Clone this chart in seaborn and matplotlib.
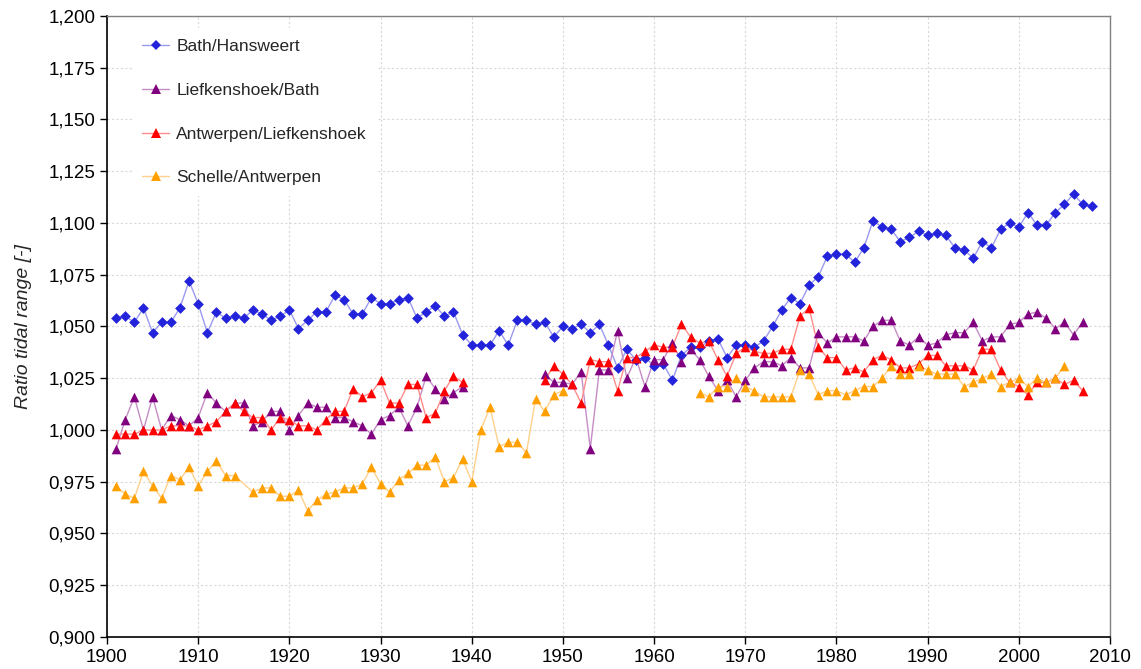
import numpy as np
import pandas as pd
import seaborn as sns
import matplotlib
matplotlib.use("Agg")
import matplotlib.pyplot as plt
from matplotlib.lines import Line2D
from matplotlib.ticker import FuncFormatter, MultipleLocator

nan = np.nan

years = list(range(1901, 2009))

bath_hansweert = [
    1.054, 1.055, 1.052, 1.059, 1.047, 1.052, 1.052, 1.059, 1.072, 1.061,  # 1901-1910
    1.047, 1.057, 1.054, 1.055, 1.054, 1.058, 1.056, 1.053, 1.055, 1.058,  # 1911-1920
    1.049, 1.053, 1.057, 1.057, 1.065, 1.063, 1.056, 1.056, 1.064, 1.061,  # 1921-1930
    1.061, 1.063, 1.064, 1.054, 1.057, 1.060, 1.055, 1.057, 1.046, 1.041,  # 1931-1940
    1.041, 1.041, 1.048, 1.041, 1.053, 1.053, 1.051, 1.052, 1.045, 1.050,  # 1941-1950
    1.049, 1.051, 1.047, 1.051, 1.041, 1.030, 1.039, 1.034, 1.035, 1.031,  # 1951-1960
    1.032, 1.024, 1.036, 1.040, 1.040, 1.043, 1.044, 1.035, 1.041, 1.041,  # 1961-1970
    1.040, 1.043, 1.050, 1.058, 1.064, 1.061, 1.070, 1.074, 1.084, 1.085,  # 1971-1980
    1.085, 1.081, 1.088, 1.101, 1.098, 1.097, 1.091, 1.093, 1.096, 1.094,  # 1981-1990
    1.095, 1.094, 1.088, 1.087, 1.083, 1.091, 1.088, 1.097, 1.100, 1.098,  # 1991-2000
    1.105, 1.099, 1.099, 1.105, 1.109, 1.114, 1.109, 1.108,                # 2001-2008
]

liefkenshoek_bath = [
    0.991, 1.005, 1.016, 1.000, 1.016, 1.000, 1.007, 1.005, 1.002, 1.006,
    1.018, 1.013, 1.009, 1.013, 1.013, 1.002, 1.004, 1.009, 1.009, 1.000,
    1.007, 1.013, 1.011, 1.011, 1.006, 1.006, 1.004, 1.002, 0.998, 1.005,
    1.007, 1.011, 1.002, 1.011, 1.026, 1.020, 1.015, 1.018, 1.021, nan,
    nan, nan, nan, nan, nan, nan, nan, 1.027, 1.023, 1.023,
    1.022, 1.028, 0.991, 1.029, 1.029, 1.048, 1.025, 1.035, 1.021, 1.034,
    1.034, 1.042, 1.033, 1.039, 1.034, 1.026, 1.019, 1.024, 1.016, 1.024,
    1.030, 1.033, 1.033, 1.031, 1.035, 1.030, 1.030, 1.047, 1.042, 1.045,
    1.045, 1.045, 1.043, 1.050, 1.053, 1.053, 1.043, 1.041, 1.045, 1.041,
    1.042, 1.046, 1.047, 1.047, 1.052, 1.043, 1.045, 1.045, 1.051, 1.052,
    1.056, 1.057, 1.054, 1.049, 1.052, 1.046, 1.052, nan,
]

antwerpen_liefkenshoek = [
    0.998, 0.998, 0.998, 1.000, 1.000, 1.000, 1.002, 1.002, 1.002, 1.000,
    1.002, 1.004, 1.009, 1.013, 1.009, 1.006, 1.006, 1.000, 1.006, 1.005,
    1.002, 1.002, 1.000, 1.005, 1.009, 1.009, 1.020, 1.016, 1.018, 1.024,
    1.013, 1.013, 1.022, 1.022, 1.006, 1.008, 1.019, 1.026, 1.023, nan,
    nan, nan, nan, nan, nan, nan, nan, 1.024, 1.031, 1.027,
    1.022, 1.013, 1.034, 1.033, 1.033, 1.019, 1.035, 1.035, 1.038, 1.041,
    1.040, 1.040, 1.051, 1.045, 1.042, 1.043, 1.034, 1.026, 1.037, 1.040,
    1.038, 1.037, 1.037, 1.039, 1.039, 1.055, 1.059, 1.040, 1.035, 1.035,
    1.029, 1.030, 1.028, 1.034, 1.036, 1.034, 1.030, 1.030, 1.032, 1.036,
    1.036, 1.031, 1.031, 1.031, 1.029, 1.039, 1.039, 1.029, 1.023, 1.021,
    1.017, 1.023, 1.023, 1.025, 1.022, 1.024, 1.019, nan,
]

schelle_antwerpen = [
    0.973, 0.969, 0.967, 0.980, 0.973, 0.967, 0.978, 0.976, 0.982, 0.973,
    0.980, 0.985, 0.978, 0.978, nan, 0.970, 0.972, 0.972, 0.968, 0.968,
    0.971, 0.961, 0.966, 0.969, 0.970, 0.972, 0.972, 0.974, 0.982, 0.974,
    0.970, 0.976, 0.979, 0.983, 0.983, 0.987, 0.975, 0.977, 0.986, 0.975,
    1.000, 1.011, 0.992, 0.994, 0.994, 0.989, 1.015, 1.009, 1.017, 1.019,
    nan, nan, nan, nan, nan, nan, nan, nan, nan, nan,
    nan, nan, nan, nan, 1.018, 1.016, 1.021, 1.021, 1.025, 1.021,
    1.019, 1.016, 1.016, 1.016, 1.016, 1.029, 1.027, 1.017, 1.019, 1.019,
    1.017, 1.019, 1.021, 1.021, 1.025, 1.031, 1.027, 1.027, 1.031, 1.029,
    1.027, 1.027, 1.027, 1.021, 1.023, 1.025, 1.027, 1.021, 1.023, 1.025,
    1.021, 1.025, 1.023, 1.025, 1.031, nan, nan, nan,
]

series_names = ["Bath/Hansweert", "Liefkenshoek/Bath",
                "Antwerpen/Liefkenshoek", "Schelle/Antwerpen"]
series_values = [bath_hansweert, liefkenshoek_bath,
                 antwerpen_liefkenshoek, schelle_antwerpen]
marker_colors = ["#2323dc", "#800080", "#ff0000", "#ffa000"]
line_colors = ["#9a9aee", "#c58cc5", "#ff8c8c", "#ffd08a"]
marker_shapes = ["D", "^", "^", "^"]
marker_sizes = [30, 48, 48, 48]

frames = []
for name, vals in zip(series_names, series_values):
    d = pd.DataFrame({"year": years, "ratio": vals, "series": name})
    d = d.dropna(subset=["ratio"])
    # a missing single year is bridged, longer gaps break the line
    d["segment"] = (d["year"].diff() > 2).cumsum()
    frames.append(d)
df = pd.concat(frames, ignore_index=True)

sns.set_theme(style="white")
plt.rcParams["font.family"] = ["Liberation Sans", "DejaVu Sans"]

fig = plt.figure(figsize=(11.41, 6.69), dpi=100)
ax = fig.add_axes([107 / 1141, 1 - 637 / 669, 1003 / 1141, 621 / 669])

for name, mcol, lcol, shape, size in zip(series_names, marker_colors, line_colors,
                                         marker_shapes, marker_sizes):
    sub = df[df["series"] == name]
    sns.lineplot(data=sub, x="year", y="ratio", units="segment", estimator=None,
                 color=lcol, linewidth=1.0, ax=ax, legend=False, zorder=2)
    sns.scatterplot(data=sub, x="year", y="ratio", marker=shape, s=size,
                    color=mcol, linewidth=0, ax=ax, legend=False, zorder=3)

ax.set_xlim(1900, 2010)
ax.set_ylim(0.900, 1.200)
ax.xaxis.set_major_locator(MultipleLocator(10))
ax.yaxis.set_major_locator(MultipleLocator(0.025))
ax.yaxis.set_major_formatter(FuncFormatter(lambda v, p: f"{v:.3f}".replace(".", ",")))
ax.grid(True, color="#d8d8d8", linestyle=(0, (2, 2)), linewidth=0.8)
ax.set_axisbelow(True)

for side in ["left", "bottom"]:
    ax.spines[side].set_color("black")
    ax.spines[side].set_linewidth(1.2)
for side in ["top", "right"]:
    ax.spines[side].set_color("#808080")
    ax.spines[side].set_linewidth(1.0)

ax.tick_params(axis="both", which="major", direction="out", length=5, width=1,
               colors="black", labelsize=13.5, left=True, bottom=True)
ax.set_xlabel("")
ax.set_ylabel("Ratio tidal range [-]", fontsize=14, style="italic", labelpad=12)

handles = [
    Line2D([0], [0], color=lcol, linewidth=1.0, marker=shape,
           markersize=(5.5 if shape == "D" else 7), markerfacecolor=mcol,
           markeredgecolor=mcol, markeredgewidth=0)
    for mcol, lcol, shape in zip(marker_colors, line_colors, marker_shapes)
]
leg = ax.legend(handles, series_names, loc="upper left",
                bbox_to_anchor=(0.025, 0.98), borderaxespad=0,
                fontsize=12.5, labelspacing=1.65, handlelength=1.5,
                handletextpad=0.45, borderpad=0.6,
                frameon=True, fancybox=False, framealpha=1)
leg.get_frame().set_facecolor("white")
leg.get_frame().set_edgecolor("none")

fig.savefig("out.png", dpi=100)
